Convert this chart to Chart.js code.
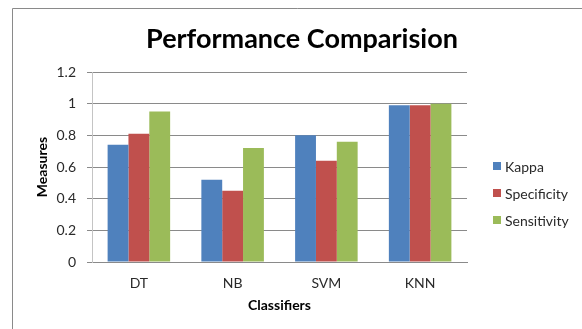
<!DOCTYPE html>
<html>
<head>
<meta charset="utf-8">
<script src="https://cdn.jsdelivr.net/npm/chart.js@4"></script>
<style>
  html, body { margin: 0; padding: 0; background: #ffffff; }
  #wrap { width: 582px; height: 329px; position: relative; }
</style>
</head>
<body>
<div id="wrap"><canvas id="c" width="582" height="329"></canvas></div>
<script>
// Classifier comparison data
const classifiers = ['DT', 'NB', 'SVM', 'KNN'];
const kappa       = [0.74, 0.52, 0.80, 0.99];
const specificity = [0.81, 0.45, 0.64, 0.99];
const sensitivity = [0.95, 0.72, 0.76, 1.00];
const yTickLabels = ['0', '0.2', '0.4', '0.6', '0.8', '1', '1.2'];

const FONT = 'Lato, "Open Sans", "Liberation Sans", sans-serif';
const TEXT = '#2a2a2a';

// Frame, chart heading and series key drawn around the plot
const decorations = {
  id: 'decorations',
  beforeDraw(chart) {
    const ctx = chart.ctx;
    ctx.save();
    ctx.fillStyle = '#ffffff';
    ctx.fillRect(0, 0, chart.width, chart.height);
    ctx.strokeStyle = '#8a8a8a';
    ctx.lineWidth = 1;
    ctx.beginPath();
    ctx.moveTo(12.5, chart.height + 2);
    ctx.lineTo(12.5, 8.5);
    ctx.lineTo(chart.width + 2, 8.5);
    ctx.stroke();
    ctx.restore();
  },
  afterDraw(chart) {
    const ctx = chart.ctx;
    ctx.save();
    ctx.fillStyle = '#000000';
    ctx.font = 'bold 27px ' + FONT;
    ctx.textAlign = 'center';
    ctx.textBaseline = 'middle';
    ctx.fillText('Performance Comparision', 302, 39);

    ctx.font = '14px ' + FONT;
    ctx.textAlign = 'left';
    chart.data.datasets.forEach((ds, i) => {
      const y = 166 + i * 27;
      ctx.fillStyle = ds.backgroundColor;
      ctx.fillRect(493, y - 4, 8, 8);
      ctx.fillStyle = TEXT;
      ctx.fillText(ds.label, 505, y + 1);
    });
    ctx.restore();
  }
};

new Chart(document.getElementById('c'), {
  type: 'bar',
  data: {
    labels: classifiers,
    datasets: [
      { label: 'Kappa',       data: kappa,       backgroundColor: '#4F81BD' },
      { label: 'Specificity', data: specificity, backgroundColor: '#C0504D' },
      { label: 'Sensitivity', data: sensitivity, backgroundColor: '#9BBB59' }
    ]
  },
  options: {
    responsive: false,
    animation: false,
    layout: { padding: { top: 72, right: 115, left: 0, bottom: 0 } },
    datasets: { bar: { categoryPercentage: 0.667, barPercentage: 1.0, borderWidth: 0 } },
    plugins: {
      legend: { display: false },
      title: { display: false },
      tooltip: { enabled: false }
    },
    scales: {
      x: {
        afterFit(scale) { scale.height = 67; },
        grid: { display: false, drawTicks: false },
        border: { display: true, color: '#8a8a8a', width: 1 },
        ticks: { color: TEXT, font: { family: FONT, size: 14 }, padding: 13 },
        title: {
          display: true, text: 'Classifiers', color: '#000000',
          font: { family: FONT, size: 14, weight: 'bold' },
          padding: { top: 0, bottom: 15 }
        }
      },
      y: {
        min: 0, max: 1.2,
        afterFit(scale) { scale.width = 92; },
        afterBuildTicks(scale) {
          scale.ticks = yTickLabels.map(t => ({ value: parseFloat(t) }));
        },
        grid: { color: '#8a8a8a', lineWidth: 1, drawTicks: true, tickLength: 5, tickColor: '#8a8a8a' },
        border: { display: true, color: '#c4c4c4', width: 1 },
        ticks: {
          color: TEXT, font: { family: FONT, size: 14 }, padding: 11,
          callback: (v, i) => yTickLabels[i]
        },
        title: {
          display: true, text: 'Measures', color: '#000000',
          font: { family: FONT, size: 14, weight: 'bold' },
          padding: { top: 34, bottom: 0 }
        }
      }
    }
  },
  plugins: [decorations]
});
</script>
</body>
</html>
